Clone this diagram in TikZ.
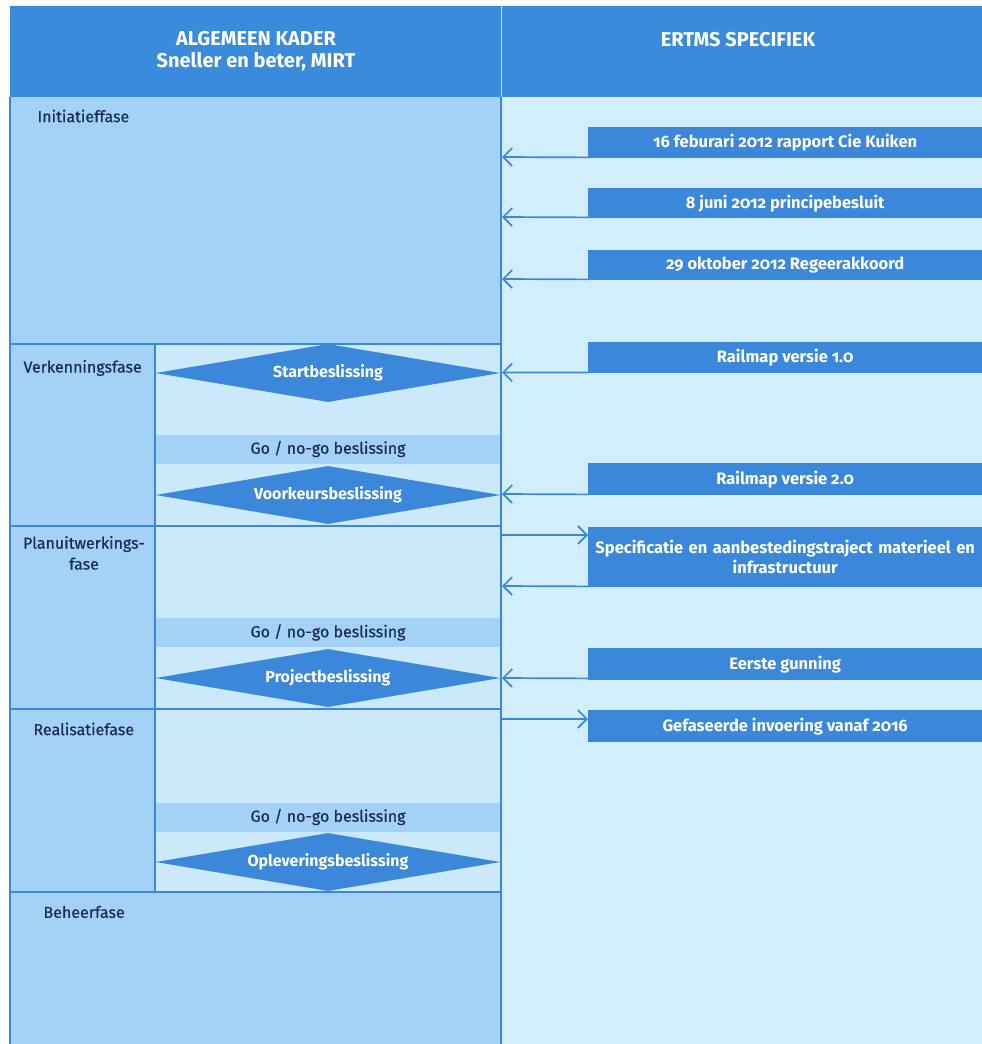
\documentclass[tikz,border=0pt]{standalone}
\usepackage{fontspec}
\setmainfont{Fira Sans}[Numbers=OldStyle]
\newfontfamily\labelfont{Fira Sans}[Numbers=OldStyle, FakeBold=0.6]
\usetikzlibrary{arrows.meta,shapes.geometric}
\definecolor{headblue}{HTML}{3A8BDB}
\definecolor{boxblue}{HTML}{3B87D9}
\definecolor{colmid}{HTML}{A4D1F6}
\definecolor{collight}{HTML}{CBE9FB}
\definecolor{colright}{HTML}{D2EDFB}
\definecolor{navy}{HTML}{1C2B5C}
\tikzset{
  every node/.style={font=\labelfont\fontsize{16}{21}\selectfont},
  headtext/.style={text=white, font=\fontsize{20}{21.5}\selectfont\bfseries, align=center},
  phase/.style={text=navy, anchor=west},
  gobar/.style={fill=colmid, draw=none, minimum width=345pt, minimum height=29pt, inner sep=0pt, text=navy},
  decision/.style={diamond, shape aspect=5.95, fill=boxblue, draw=none, minimum width=345pt, minimum height=58pt, inner sep=0pt, text=white, font=\fontsize{16}{19}\selectfont\bfseries},
  eventbox/.style={fill=boxblue, draw=none, anchor=north west, minimum width=394pt, inner sep=0pt, text=white, font=\fontsize{16.5}{20}\selectfont\bfseries, align=center},
  frame/.style={draw=boxblue, line width=1.4pt},
  link/.style={draw=boxblue, line width=1.7pt},
  chevron/.style={-{Straight Barb[length=9pt,width=18pt,line width=1.7pt]}}
}
\begin{document}
\begin{tikzpicture}[x=1pt,y=-1pt]
\useasboundingbox (0,0) rectangle (982,1044);
% column backgrounds
\fill[white] (0,0) rectangle (982,1044);
\fill[colright] (501,97) rectangle (982,1044);
\fill[colmid] (10,97) rectangle (501,1044);
\fill[collight] (155,344) rectangle (501,892);
% header band
\fill[headblue] (10,6) rectangle (982,97);
\draw[white!70!headblue, line width=0.8pt] (501,6) -- (501,97);
\node[headtext] (hleft) at (256,51) {ALGEMEEN KADER\\Sneller en beter, MIRT};
\node[headtext] (hright) at (738,40) {ERTMS SPECIFIEK};
% go / no-go bars
\node[gobar] (go1) at (328,449) {Go / no-go beslissing};
\node[gobar] (go2) at (328,632.5) {Go / no-go beslissing};
\node[gobar] (go3) at (328,817) {Go / no-go beslissing};
% decisions
\node[decision] (start) at (328,373) {Startbeslissing};
\node[decision] (voork) at (328,495) {Voorkeursbeslissing};
\node[decision] (proj) at (328,678) {Projectbeslissing};
\node[decision] (oplev) at (328,862) {Opleveringsbeslissing};
% frame lines of the left column
\draw[frame] (10,97) -- (10,1044);
\draw[frame] (501,97) -- (501,1044);
\draw[frame] (155,344) -- (155,892);
\foreach \yy in {344,526,709,892} \draw[frame] (10,\yy) -- (501,\yy);
% phase labels
\node[phase] (ini) at (34,116) {Initiatieffase};
\node[phase] (verk) at (20,368) {Verkenningsfase};
\node[text=navy, align=center] (plan) at (84,553) {Planuitwerkings-\\fase};
\node[phase] (real) at (30,729) {Realisatiefase};
\node[phase] (beh) at (40,912) {Beheerfase};
% events on the right
\node[eventbox, minimum height=31pt] (e1) at (588,127) {16 feburari 2012 rapport Cie Kuiken};
\node[eventbox, minimum height=30pt] (e2) at (588,188) {8 juni 2012 principebesluit};
\node[eventbox, minimum height=30pt] (e3) at (588,250) {29 oktober 2012 Regeerakkoord};
\node[eventbox, minimum height=31pt] (e4) at (588,342) {Railmap versie 1.0};
\node[eventbox, minimum height=32pt] (e5) at (588,463) {Railmap versie 2.0};
\node[eventbox, minimum height=60pt, text width=394pt] (e6) at (588,527) {Specificatie en aanbestedingstraject materieel en\\infrastructuur};
\node[eventbox, minimum height=32pt] (e7) at (588,648) {Eerste gunning};
\node[eventbox, minimum height=32pt] (e8) at (588,710) {Gefaseerde invoering vanaf 2016};
% arrow ends on the column edge
\coordinate (c1) at (502,157);
\coordinate (c2) at (502,217);
\coordinate (c3) at (502,279);
\coordinate (c4) at (502,372.5);
\coordinate (c5) at (502,494);
\coordinate (c6a) at (502,535);
\coordinate (c6b) at (502,586);
\coordinate (c7) at (502,678);
\coordinate (c8) at (502,719);
% connectors
\draw[link, chevron] (e1.south west) ++(0,-1) -- (c1);
\draw[link, chevron] (e2.south west) ++(0,-1) -- (c2);
\draw[link, chevron] (e3.south west) ++(0,-1) -- (c3);
\draw[link] (start.east) -- (c4);
\draw[link, chevron] (e4.south west) ++(0,-1) -- (c4);
\draw[link] (voork.east) -- (c5);
\draw[link, chevron] (e5.south west) ++(0,-1) -- (c5);
\draw[link, chevron] (c6a) -- (c6a -| e6.west);
\draw[link, chevron] (e6.south west) ++(0,-1) -- (c6b);
\draw[link] (proj.east) -- (c7);
\draw[link, chevron] (e7.south west) ++(0,-2) -- (c7);
\draw[link, chevron] (c8) -- (c8 -| e8.west);
\end{tikzpicture}
\end{document}
